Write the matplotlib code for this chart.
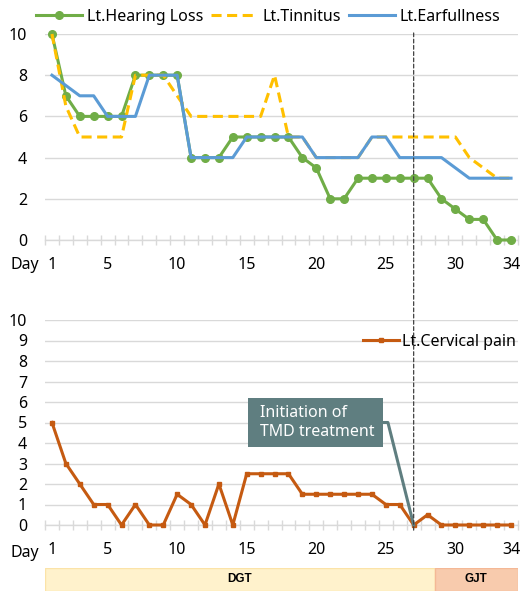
import numpy as np
import matplotlib
matplotlib.use('Agg')
import matplotlib.pyplot as plt
from matplotlib.patches import Rectangle, ConnectionPatch

plt.rcParams['font.family'] = ['Noto Sans', 'DejaVu Sans']
plt.rcParams['font.size'] = 11

days = list(range(1, 35))
hearing = [10, 7, 6, 6, 6, 6, 8, 8, 8, 8,
           4, 4, 4, 5, 5, 5, 5, 5, 4, 3.5,
           2, 2, 3, 3, 3, 3, 3, 3, 2, 1.5,
           1, 1, 0, 0]
tinnitus = [10, 6.5, 5, 5, 5, 5, 8, 8, 8, 7,
            6, 6, 6, 6, 6, 6, 8, 5, 5, 4,
            4, 4, 4, 5, 5, 5, 5, 5, 5, 5,
            4, 3.5, 3, 3]
earfull = [8, 7.5, 7, 7, 6, 6, 6, 8, 8, 8,
           4, 4, 4, 4, 5, 5, 5, 5, 5, 4,
           4, 4, 4, 5, 5, 4, 4, 4, 4, 3.5,
           3, 3, 3, 3]
cervical = [5, 3, 2, 1, 1, 0, 1, 0, 0, 1.5,
            1, 0, 2, 0, 2.5, 2.5, 2.5, 2.5, 1.5, 1.5,
            1.5, 1.5, 1.5, 1.5, 1, 1, 0, 0.5, 0, 0,
            0, 0, 0, 0]
xlabels = [1, 5, 10, 15, 20, 25, 30, 34]
tmd_day = 27
phases = ['DGT', 'GJT']
phase_start = [1, 29]
phase_end = [28, 34]

W, H = 524, 593
fig = plt.figure(figsize=(W / 100, H / 100), dpi=100)

def box(l, t, r, b):
    return [l / W, 1 - b / H, (r - l) / W, (b - t) / H]

ax1 = fig.add_axes(box(45, 34, 518, 240))
ax2 = fig.add_axes(box(45, 320, 518, 525))
ax3 = fig.add_axes(box(45, 568, 518, 591))

grid_c = '#D9D9D9'

def style(ax, yticks, bottom_px):
    ax.set_xlim(0.5, 34.5)
    ax.set_ylim(0, 10)
    ax.set_yticks(yticks)
    ax.grid(axis='y', color=grid_c, lw=1)
    ax.set_axisbelow(True)
    for s in ['top', 'right', 'left']:
        ax.spines[s].set_visible(False)
    ax.spines['bottom'].set_color(grid_c)
    ax.spines['bottom'].set_linewidth(1)
    ax.set_xticks(xlabels)
    ax.set_xticks(np.arange(0.5, 35, 1), minor=True)
    ax.tick_params(axis='x', which='major', length=0, pad=12, labelsize=11.5)
    ax.tick_params(axis='x', which='minor', length=7, direction='inout', color=grid_c, width=1)
    ax.tick_params(axis='y', length=0, pad=13, labelsize=11.5)
    fig.text(25 / W, 1 - bottom_px / H, 'Day', ha='center', va='center', fontsize=11.5)

style(ax1, range(0, 11, 2), 265)
style(ax2, range(0, 11, 1), 553)

l1, = ax1.plot(days, hearing, color='#70AD47', lw=2.2, marker='o', ms=5.5,
               clip_on=False, zorder=3, label='Lt.Hearing Loss')
l2, = ax1.plot(days, tinnitus, color='#FFC000', lw=2.2, ls=(0, (3.3, 1.8)),
               clip_on=False, zorder=4, label='Lt.Tinnitus')
l3, = ax1.plot(days, earfull, color='#5B9BD5', lw=2.2,
               clip_on=False, zorder=5, label='Lt.Earfullness')
fig.legend(handles=[l1, l2, l3], loc='center', bbox_to_anchor=(268 / W, 1 - 17 / H),
           ncol=3, frameon=False, fontsize=11.5, handlelength=2.9,
           handletextpad=0.3, columnspacing=0.5, borderaxespad=0)

l4, = ax2.plot(days, cervical, color='#C55A11', lw=2.2, marker='s', ms=3.5,
               clip_on=False, zorder=4, label='Lt.Cervical pain')
fig.legend(handles=[l4], loc='center right', bbox_to_anchor=(522 / W, 1 - 342 / H),
           frameon=False, fontsize=11.5, handlelength=2.2, handletextpad=0.2,
           borderaxespad=0)

# callout
ann_c = '#5F7E80'
ax2.add_patch(Rectangle((15.1, 3.8), 24.8 - 15.1, 6.2 - 3.8, facecolor=ann_c,
                        edgecolor='none', zorder=6))
ax2.text(15.95, 5.0, 'Initiation of\nTMD treatment', color='white', fontsize=11.5,
         ha='left', va='center', linespacing=1.25, zorder=7)
ax2.plot([24.8, 25.15, tmd_day], [5.0, 5.0, cervical[tmd_day - 1]], color=ann_c,
         lw=2.2, zorder=5, clip_on=False)

# vertical dashed line across both charts
con = ConnectionPatch(xyA=(tmd_day, 10.05), coordsA=ax1.transData,
                      xyB=(tmd_day, -0.25), coordsB=ax2.transData,
                      color='#404040', lw=0.9, ls=(0, (3, 2)), zorder=10)
fig.add_artist(con)

# treatment phases
ax3.set_xlim(0.5, 34.5)
ax3.set_ylim(0, 1)
ax3.axis('off')
fills = ['#FFF2CC', '#F8CBAD']
edges = ['#FBE3A8', '#F4B896']
for name, s, e, fc, ec in zip(phases, phase_start, phase_end, fills, edges):
    ax3.barh(0.5, e - s + 1, left=s - 0.5, height=1, color=fc, edgecolor=ec, lw=1)
    ax3.text((s + e) / 2, 0.5, name, ha='center', va='center', fontsize=8.5,
             fontweight='bold', family=['Liberation Sans', 'DejaVu Sans'])

fig.savefig('out.png', dpi=100)
